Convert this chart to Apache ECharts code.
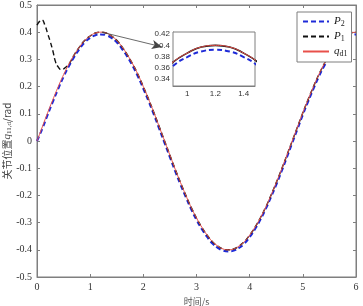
<!DOCTYPE html>
<html>
<head>
<meta charset="utf-8">
<script src="https://cdn.jsdelivr.net/npm/echarts@6/dist/echarts.min.js"></script>
<style>
html,body{margin:0;padding:0;background:#fff;}
#main{width:363px;height:306px;}
</style>
</head>
<body>
<div id="main"></div>
<script>
// time axis, s
var times = [0,0.1,0.2,0.3,0.4,0.5,0.6,0.7,0.8,0.9,1.0,1.1,1.2,1.3,1.4,1.5,1.6,1.7,1.8,1.9,
  2.0,2.1,2.2,2.3,2.4,2.5,2.6,2.7,2.8,2.9,3.0,3.1,3.2,3.3,3.4,3.5,3.6,3.7,3.8,3.9,
  4.0,4.1,4.2,4.3,4.4,4.5,4.6,4.7,4.8,4.9,5.0,5.1,5.2,5.3,5.4,5.5,5.6,5.7,5.8,5.9,6.0];
// desired joint position q_d1
var qd1 = [0,0.052,0.104,0.153,0.200,0.244,0.283,0.317,0.346,0.370,0.386,0.397,0.400,0.397,0.386,0.370,0.346,0.317,0.283,0.244,
  0.200,0.153,0.104,0.052,0,-0.052,-0.104,-0.153,-0.200,-0.244,-0.283,-0.317,-0.346,-0.370,-0.386,-0.397,-0.400,-0.397,-0.386,-0.370,
  -0.346,-0.317,-0.283,-0.244,-0.200,-0.153,-0.104,-0.052,0,0.052,0.104,0.153,0.200,0.244,0.283,0.317,0.346,0.370,0.386,0.397,0.400];
// P2 response
var p2 = [0,0.045,0.096,0.145,0.192,0.236,0.275,0.309,0.338,0.363,0.379,0.389,0.392,0.389,0.379,0.363,0.338,0.309,0.275,0.236,
  0.192,0.145,0.096,0.044,-0.008,-0.060,-0.112,-0.161,-0.207,-0.251,-0.290,-0.324,-0.353,-0.377,-0.393,-0.403,-0.406,-0.403,-0.393,-0.377,
  -0.353,-0.324,-0.290,-0.251,-0.207,-0.161,-0.112,-0.060,-0.008,0.044,0.096,0.145,0.192,0.236,0.275,0.309,0.338,0.362,0.378,0.389,0.392];
// P1 response: start-up transient, then follows q_d1
var p1Times = [0,0.05,0.09,0.15,0.2,0.25,0.3,0.35,0.4,0.46,0.52,0.6];
var p1Start = [0.426,0.440,0.445,0.425,0.395,0.365,0.330,0.290,0.272,0.262,0.268,0.283];

var yTicks = [0.34,0.36,0.38,0.4,0.42];
var xTicks = [1,1.2,1.4];

function pairs(xs, ys) {
  return xs.map(function (x, i) { return [x, ys[i]]; });
}
var qdData = pairs(times, qd1);
var p2Data = pairs(times, p2);
var p1Data = pairs(p1Times, p1Start);
times.forEach(function (t, i) { if (t > 0.6) p1Data.push([t, qd1[i]]); });

var serif = '"Liberation Serif","Times New Roman",serif';
var sans = '"Liberation Sans",Arial,sans-serif';
var axisCol = '#7f7f7f';

var myChart = echarts.init(document.getElementById('main'));
var option = {
  animation: false,
  backgroundColor: '#fff',
  grid: [
    {left: 37, right: 7, top: 5, bottom: 29, show: true, borderColor: axisCol, borderWidth: 1, outerBoundsMode: 'none', containLabel: false},
    {left: 173, top: 32, width: 82, height: 54, show: true, borderColor: axisCol, borderWidth: 1, backgroundColor: '#fff', z: 5, outerBoundsMode: 'none', containLabel: false}
  ],
  xAxis: [
    {gridIndex: 0, type: 'value', min: 0, max: 6, interval: 1,
      name: '时间/s', nameLocation: 'middle', nameGap: 20, nameMoveOverlap: false,
      nameTextStyle: {fontFamily: '"Noto Sans CJK SC",' + serif, fontSize: 9, color: '#555'},
      axisLine: {onZero: false, lineStyle: {color: axisCol}}, axisTick: {inside: true, length: 3, lineStyle: {color: axisCol}},
      axisLabel: {fontFamily: serif, fontSize: 10, color: '#333', margin: 5}, splitLine: {show: false}},
    {gridIndex: 0, type: 'value', position: 'top', min: 0, max: 6, interval: 1,
      axisLine: {onZero: false, lineStyle: {color: axisCol}}, axisTick: {inside: true, length: 3, lineStyle: {color: axisCol}},
      axisLabel: {show: false}, splitLine: {show: false}},
    {gridIndex: 1, type: 'value', min: 0.9, max: 1.48,
      axisLine: {onZero: false, lineStyle: {color: axisCol}}, axisTick: {inside: true, length: 2, customValues: xTicks, lineStyle: {color: axisCol}},
      axisLabel: {fontFamily: sans, fontSize: 8, color: '#333', margin: 4, customValues: xTicks}, splitLine: {show: false}}
  ],
  yAxis: [
    {gridIndex: 0, type: 'value', min: -0.5, max: 0.5, interval: 0.1,
      name: '{c|关节位置}{i|q}{s|11,d}{c|/rad}', nameLocation: 'middle', nameGap: 24, nameRotate: 90, nameMoveOverlap: false,
      nameTextStyle: {color: '#444', rich: {
        c: {fontFamily: '"Noto Sans CJK SC",' + serif, fontSize: 10, color: '#444'},
        i: {fontFamily: serif, fontStyle: 'italic', fontSize: 11, color: '#444'},
        s: {fontFamily: serif, fontSize: 7, color: '#444', padding: [5, 0, 0, 0]}
      }},
      axisLine: {onZero: false, lineStyle: {color: axisCol}}, axisTick: {inside: true, length: 3, lineStyle: {color: axisCol}},
      axisLabel: {fontFamily: serif, fontSize: 10, color: '#333', margin: 5}, splitLine: {show: false}},
    {gridIndex: 0, type: 'value', position: 'right', min: -0.5, max: 0.5, interval: 0.1,
      axisLine: {onZero: false, lineStyle: {color: axisCol}}, axisTick: {inside: true, length: 3, lineStyle: {color: axisCol}},
      axisLabel: {show: false}, splitLine: {show: false}},
    {gridIndex: 1, type: 'value', min: 0.327, max: 0.424,
      axisLine: {onZero: false, lineStyle: {color: axisCol}}, axisTick: {inside: true, length: 2, customValues: yTicks, lineStyle: {color: axisCol}},
      axisLabel: {fontFamily: sans, fontSize: 8, color: '#333', margin: 3, customValues: yTicks}, splitLine: {show: false}}
  ],
  legend: {
    orient: 'vertical', left: 297, top: 12, width: 51,
    backgroundColor: '#fff', borderColor: axisCol, borderWidth: 1, borderRadius: 0,
    padding: [4, 4, 4, 5], itemGap: 3, itemWidth: 26, itemHeight: 10,
    itemStyle: {color: 'transparent', borderWidth: 0},
    data: ['P2', 'P1', 'qd1'],
    formatter: function (name) {
      if (name === 'P2') return '{i|P}{s|2}';
      if (name === 'P1') return '{i|P}{s|1}';
      return '{i|q}{s|d1}';
    },
    textStyle: {rich: {
      i: {fontFamily: serif, fontStyle: 'italic', fontSize: 11, color: '#222'},
      s: {fontFamily: serif, fontSize: 8, color: '#222', padding: [5, 0, 0, 0]}
    }}
  },
  series: [
    {name: 'P2', type: 'line', xAxisIndex: 0, yAxisIndex: 0, data: p2Data, smooth: true, symbol: 'none',
      lineStyle: {color: '#1f2bd8', width: 2, type: [5, 3]}, itemStyle: {color: '#1f2bd8'}},
    {name: 'P1', type: 'line', xAxisIndex: 0, yAxisIndex: 0, data: p1Data, smooth: true, symbol: 'none',
      lineStyle: {color: '#111', width: 1.4, type: [5, 3]}, itemStyle: {color: '#111'}},
    {name: 'qd1', type: 'line', xAxisIndex: 0, yAxisIndex: 0, data: qdData, smooth: true, symbol: 'none',
      lineStyle: {color: '#e8504a', width: 1}, itemStyle: {color: '#e8504a'},
      markLine: {silent: true, symbol: ['none', 'arrow'], symbolSize: [7, 10],
        label: {show: false}, lineStyle: {color: '#444', width: 0.8, type: 'solid'},
        data: [[{coord: [1.22, 0.40]}, {coord: [2.35, 0.346]}]]}},
    {name: 'P2', type: 'line', xAxisIndex: 2, yAxisIndex: 2, data: p2Data, smooth: true, symbol: 'none', z: 6,
      lineStyle: {color: '#1f2bd8', width: 2, type: [5, 3]}},
    {name: 'P1', type: 'line', xAxisIndex: 2, yAxisIndex: 2, data: p1Data, smooth: true, symbol: 'none', z: 6,
      lineStyle: {color: '#111', width: 1.6}},
    {name: 'qd1', type: 'line', xAxisIndex: 2, yAxisIndex: 2, data: qdData, smooth: true, symbol: 'none', z: 6,
      lineStyle: {color: '#e8504a', width: 1}}
  ]
};
myChart.setOption(option);
</script>
</body>
</html>
